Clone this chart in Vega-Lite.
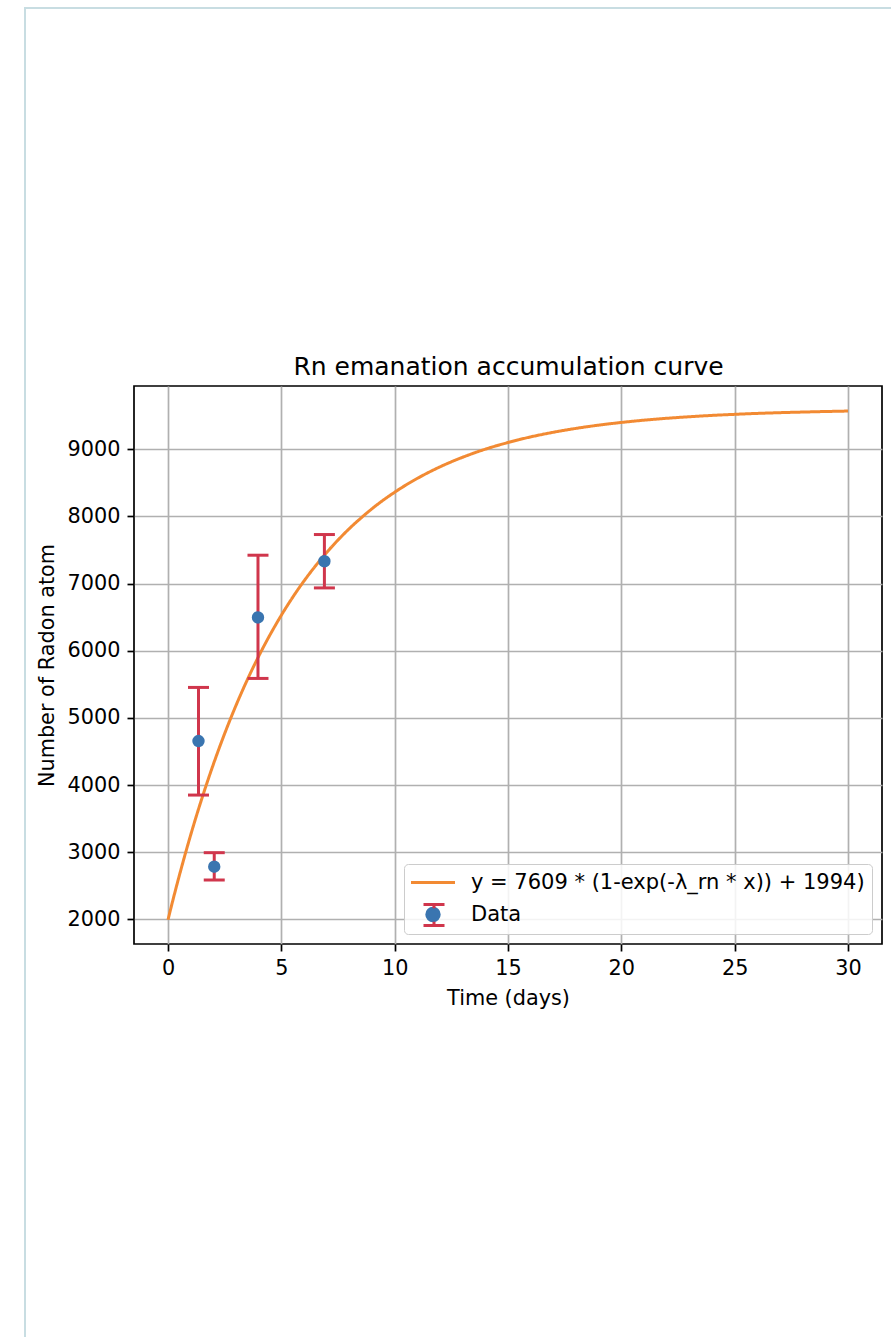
{
  "$schema": "https://vega.github.io/schema/vega-lite/v6.json",
  "width": 748,
  "height": 558,
  "autosize": {"type": "none"},
  "padding": {"left": 134, "top": 386, "right": 9, "bottom": 393},
  "background": "white",
  "config": {
    "font": "DejaVu Sans",
    "view": {"stroke": "#000000", "strokeWidth": 1.7},
    "axis": {"domain": false, "grid": true, "gridColor": "#b0b0b0", "gridWidth": 1.7, "tickColor": "#000000", "tickSize": 7, "tickWidth": 1.7, "labelFont": "DejaVu Sans", "labelFontSize": 20.8, "labelColor": "#000000", "labelPadding": 7, "titleFont": "DejaVu Sans", "titleFontSize": 20.8, "titleFontWeight": "normal", "titleColor": "#000000"}
  },
  "datasets": {
    "curve": [
      {"x": 0, "y": 1994, "series": "y = 7609 * (1-exp(-λ_rn * x)) + 1994)"},
      {"x": 0.25, "y": 2331, "series": "y = 7609 * (1-exp(-λ_rn * x)) + 1994)"},
      {"x": 0.5, "y": 2653, "series": "y = 7609 * (1-exp(-λ_rn * x)) + 1994)"},
      {"x": 0.75, "y": 2961, "series": "y = 7609 * (1-exp(-λ_rn * x)) + 1994)"},
      {"x": 1, "y": 3256, "series": "y = 7609 * (1-exp(-λ_rn * x)) + 1994)"},
      {"x": 1.5, "y": 3806, "series": "y = 7609 * (1-exp(-λ_rn * x)) + 1994)"},
      {"x": 2, "y": 4308, "series": "y = 7609 * (1-exp(-λ_rn * x)) + 1994)"},
      {"x": 2.5, "y": 4767, "series": "y = 7609 * (1-exp(-λ_rn * x)) + 1994)"},
      {"x": 3, "y": 5186, "series": "y = 7609 * (1-exp(-λ_rn * x)) + 1994)"},
      {"x": 3.5, "y": 5569, "series": "y = 7609 * (1-exp(-λ_rn * x)) + 1994)"},
      {"x": 4, "y": 5918, "series": "y = 7609 * (1-exp(-λ_rn * x)) + 1994)"},
      {"x": 4.5, "y": 6237, "series": "y = 7609 * (1-exp(-λ_rn * x)) + 1994)"},
      {"x": 5, "y": 6529, "series": "y = 7609 * (1-exp(-λ_rn * x)) + 1994)"},
      {"x": 5.5, "y": 6796, "series": "y = 7609 * (1-exp(-λ_rn * x)) + 1994)"},
      {"x": 6, "y": 7039, "series": "y = 7609 * (1-exp(-λ_rn * x)) + 1994)"},
      {"x": 6.5, "y": 7261, "series": "y = 7609 * (1-exp(-λ_rn * x)) + 1994)"},
      {"x": 7, "y": 7464, "series": "y = 7609 * (1-exp(-λ_rn * x)) + 1994)"},
      {"x": 7.5, "y": 7649, "series": "y = 7609 * (1-exp(-λ_rn * x)) + 1994)"},
      {"x": 8, "y": 7819, "series": "y = 7609 * (1-exp(-λ_rn * x)) + 1994)"},
      {"x": 8.5, "y": 7973, "series": "y = 7609 * (1-exp(-λ_rn * x)) + 1994)"},
      {"x": 9, "y": 8115, "series": "y = 7609 * (1-exp(-λ_rn * x)) + 1994)"},
      {"x": 9.5, "y": 8244, "series": "y = 7609 * (1-exp(-λ_rn * x)) + 1994)"},
      {"x": 10, "y": 8361, "series": "y = 7609 * (1-exp(-λ_rn * x)) + 1994)"},
      {"x": 10.5, "y": 8469, "series": "y = 7609 * (1-exp(-λ_rn * x)) + 1994)"},
      {"x": 11, "y": 8567, "series": "y = 7609 * (1-exp(-λ_rn * x)) + 1994)"},
      {"x": 11.5, "y": 8657, "series": "y = 7609 * (1-exp(-λ_rn * x)) + 1994)"},
      {"x": 12, "y": 8739, "series": "y = 7609 * (1-exp(-λ_rn * x)) + 1994)"},
      {"x": 12.5, "y": 8814, "series": "y = 7609 * (1-exp(-λ_rn * x)) + 1994)"},
      {"x": 13, "y": 8882, "series": "y = 7609 * (1-exp(-λ_rn * x)) + 1994)"},
      {"x": 13.5, "y": 8945, "series": "y = 7609 * (1-exp(-λ_rn * x)) + 1994)"},
      {"x": 14, "y": 9002, "series": "y = 7609 * (1-exp(-λ_rn * x)) + 1994)"},
      {"x": 14.5, "y": 9054, "series": "y = 7609 * (1-exp(-λ_rn * x)) + 1994)"},
      {"x": 15, "y": 9101, "series": "y = 7609 * (1-exp(-λ_rn * x)) + 1994)"},
      {"x": 15.5, "y": 9145, "series": "y = 7609 * (1-exp(-λ_rn * x)) + 1994)"},
      {"x": 16, "y": 9185, "series": "y = 7609 * (1-exp(-λ_rn * x)) + 1994)"},
      {"x": 16.5, "y": 9221, "series": "y = 7609 * (1-exp(-λ_rn * x)) + 1994)"},
      {"x": 17, "y": 9254, "series": "y = 7609 * (1-exp(-λ_rn * x)) + 1994)"},
      {"x": 18, "y": 9312, "series": "y = 7609 * (1-exp(-λ_rn * x)) + 1994)"},
      {"x": 19, "y": 9360, "series": "y = 7609 * (1-exp(-λ_rn * x)) + 1994)"},
      {"x": 20, "y": 9400, "series": "y = 7609 * (1-exp(-λ_rn * x)) + 1994)"},
      {"x": 21, "y": 9434, "series": "y = 7609 * (1-exp(-λ_rn * x)) + 1994)"},
      {"x": 22, "y": 9462, "series": "y = 7609 * (1-exp(-λ_rn * x)) + 1994)"},
      {"x": 23, "y": 9485, "series": "y = 7609 * (1-exp(-λ_rn * x)) + 1994)"},
      {"x": 24, "y": 9505, "series": "y = 7609 * (1-exp(-λ_rn * x)) + 1994)"},
      {"x": 25, "y": 9521, "series": "y = 7609 * (1-exp(-λ_rn * x)) + 1994)"},
      {"x": 26, "y": 9535, "series": "y = 7609 * (1-exp(-λ_rn * x)) + 1994)"},
      {"x": 27, "y": 9546, "series": "y = 7609 * (1-exp(-λ_rn * x)) + 1994)"},
      {"x": 28, "y": 9555, "series": "y = 7609 * (1-exp(-λ_rn * x)) + 1994)"},
      {"x": 29, "y": 9563, "series": "y = 7609 * (1-exp(-λ_rn * x)) + 1994)"},
      {"x": 30, "y": 9570, "series": "y = 7609 * (1-exp(-λ_rn * x)) + 1994)"}
    ],
    "pts": [
      {"t": 1.345, "v": 4655, "lo": 3851, "hi": 5454, "series": "Data"},
      {"t": 2.04, "v": 2784, "lo": 2586, "hi": 2993, "series": "Data"},
      {"t": 3.97, "v": 6496, "lo": 5588, "hi": 7423, "series": "Data"},
      {"t": 6.9, "v": 7333, "lo": 6936, "hi": 7731, "series": "Data"}
    ]
  },
  "layer": [
    {
      "data": {"name": "curve"},
      "mark": {"type": "line", "strokeWidth": 3, "clip": true, "interpolate": "monotone"},
      "encoding": {
        "x": {"field": "x", "type": "quantitative", "scale": {"domain": [-1.5, 31.5], "nice": false, "zero": false}, "axis": {"orient": "bottom", "values": [0, 5, 10, 15, 20, 25, 30], "format": "d", "title": "Time (days)", "titlePadding": 11, "labelAngle": 0}},
        "y": {"field": "y", "type": "quantitative", "scale": {"domain": [1633, 9943], "nice": false, "zero": false}, "axis": {"values": [2000, 3000, 4000, 5000, 6000, 7000, 8000, 9000], "format": "d", "title": "Number of Radon atom", "titlePadding": 10}},
        "color": {
          "field": "series", "type": "nominal",
          "scale": {"domain": ["y = 7609 * (1-exp(-λ_rn * x)) + 1994)", "Data"], "range": ["#f28a33", "#3a75b0"]},
          "legend": {
            "title": null, "orient": "bottom-right", "offset": 10,
            "fillColor": "rgba(255,255,255,0.85)", "strokeColor": "#cccccc", "cornerRadius": 4, "padding": 7,
            "labelFont": "DejaVu Sans", "labelFontSize": 21, "labelColor": "#000000", "labelOffset": 37, "labelLimit": 0, "rowPadding": 9,
            "symbolSize": 400, "symbolStrokeWidth": 3,
            "encode": {"symbols": {"update": {
              "x": {"value": 22},
              "shape": {"signal": "datum.value === 'Data' ? 'circle' : 'M-2.2,0H2.2'"},
              "size": {"signal": "datum.value === 'Data' ? 154 : 400"},
              "fill": {"signal": "datum.value === 'Data' ? '#3a75b0' : 'transparent'"},
              "stroke": {"signal": "datum.value === 'Data' ? 'transparent' : '#f28a33'"},
              "strokeWidth": {"value": 3}
            }}}
          }
        },
        "strokeDash": {
          "datum": "page", "type": "nominal",
          "scale": {"domain": ["page"], "range": [[1, 0]]},
          "legend": {
            "title": null, "orient": "none", "legendX": -109, "legendY": -378, "padding": 1200,
            "strokeColor": "#c8dde2", "fillColor": null,
            "labelColor": "transparent", "labelFontSize": 1, "labelExpr": "''", "symbolOpacity": 0, "symbolStrokeColor": "transparent",
            "encode": {"legend": {"update": {"strokeWidth": {"value": 2}}}}
          }
        }
      }
    },
    {
      "data": {"name": "pts"},
      "mark": {"type": "rule", "color": "#d0364c", "strokeWidth": 3},
      "encoding": {
        "x": {"field": "t", "type": "quantitative", "axis": {"orient": "top", "title": "Rn emanation accumulation curve", "titleFontSize": 25, "titlePadding": 7, "labels": false, "ticks": false, "grid": false, "domain": false}},
        "y": {"field": "lo", "type": "quantitative"},
        "y2": {"field": "hi"},
        "opacity": {
          "datum": "Data", "type": "ordinal",
          "scale": {"domain": ["Data"], "range": [1]},
          "legend": {
            "title": null, "orient": "none", "legendX": 288, "legendY": 517, "padding": 0,
            "symbolType": "M-1,-1H1M0,-1V-0.64M-1,1H1M0,1V0.64", "symbolSize": 441,
            "symbolStrokeColor": "#d0364c", "symbolStrokeWidth": 3, "symbolFillColor": "transparent",
            "labelColor": "transparent", "labelFontSize": 1, "labelOffset": 0
          }
        }
      }
    },
    {
      "data": {"name": "pts"},
      "mark": {"type": "tick", "orient": "horizontal", "color": "#d0364c", "size": 21, "thickness": 3, "opacity": 1},
      "encoding": {
        "x": {"field": "t", "type": "quantitative", "axis": null},
        "y": {"field": "lo", "type": "quantitative"}
      }
    },
    {
      "data": {"name": "pts"},
      "mark": {"type": "tick", "orient": "horizontal", "color": "#d0364c", "size": 21, "thickness": 3, "opacity": 1},
      "encoding": {
        "x": {"field": "t", "type": "quantitative", "axis": null},
        "y": {"field": "hi", "type": "quantitative"}
      }
    },
    {
      "data": {"name": "pts"},
      "mark": {"type": "point", "filled": true, "opacity": 1, "size": 154},
      "encoding": {
        "x": {"field": "t", "type": "quantitative", "axis": null},
        "y": {"field": "v", "type": "quantitative"},
        "color": {"field": "series", "type": "nominal"}
      }
    }
  ]
}
